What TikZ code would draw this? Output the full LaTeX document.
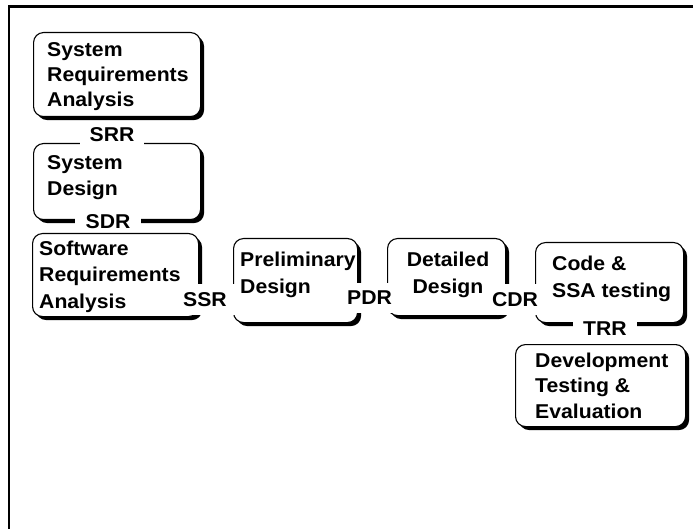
\documentclass[tikz,border=0pt]{standalone}
\usepackage{fontspec}
\setmainfont[FakeStretch=1.06]{Liberation Sans}
\usetikzlibrary{shadows}
\begin{document}
\begin{tikzpicture}[x=1pt,y=-1pt,
  stagebox/.style={draw=black, line width=1.1pt, rounded corners=10pt, fill=white,
    anchor=north west, inner sep=0pt,
    drop shadow={shadow xshift=3.5pt, shadow yshift=-3.5pt, fill=black, opacity=1}},
  boxtext/.style={anchor=base west, inner sep=0pt, font=\fontsize{20}{#1}\selectfont\bfseries},
  boxtextc/.style={anchor=base, inner sep=0pt, font=\fontsize{20}{#1}\selectfont\bfseries},
  milestone/.style={fill=white, inner xsep=10pt, inner ysep=#1, font=\fontsize{20}{24}\selectfont\bfseries},
  milestone/.default=8pt,
  frameline/.style={line width=2.5pt, line cap=rect},
]
\useasboundingbox (0,0) rectangle (693,529);

% outer frame (only top and left edges visible)
\coordinate (fbl) at (9,531);
\coordinate (ftl) at (9,6.5);
\coordinate (ftr) at (695,6.5);
\draw[frameline] (fbl) -- (ftl) -- (ftr);

% stage boxes
\node[stagebox, minimum width=167pt, minimum height=84pt] (sra) at (33,32) {};
\node[stagebox, minimum width=167pt, minimum height=76pt] (sd)  at (33,143) {};
\node[stagebox, minimum width=166pt, minimum height=83pt] (swra) at (32,233) {};
\node[stagebox, minimum width=124pt, minimum height=84pt] (pd)  at (233,238) {};
\node[stagebox, minimum width=118pt, minimum height=77pt] (dd)  at (387,238) {};
\node[stagebox, minimum width=148pt, minimum height=80pt] (cst) at (535,242) {};
\node[stagebox, minimum width=170pt, minimum height=82pt] (dte) at (515,344) {};

% box texts
\node[boxtext=25] (sratext) at (47,57) {\begin{tabular}[t]{@{}l@{}}System\\Requirements\\Analysis\end{tabular}};
\node[boxtext=26] (sdtext) at (47,170) {\begin{tabular}[t]{@{}l@{}}System\\Design\end{tabular}};
\node[boxtext=27] (swratext) at (39,255) {\begin{tabular}[t]{@{}l@{}}Software\\Requirements\\Analysis\end{tabular}};
\node[boxtext=26] (pdtext) at (240,267) {\begin{tabular}[t]{@{}l@{}}Preliminary\\Design\end{tabular}};
\node[boxtextc=26] (ddtext) at (448,267) {\begin{tabular}[t]{@{}c@{}}Detailed\\Design\end{tabular}};
\node[boxtext=27] (csttext) at (552,270) {\begin{tabular}[t]{@{}l@{}}Code \&\\SSA testing\end{tabular}};
\node[boxtext=25.5] (dtetext) at (535,367) {\begin{tabular}[t]{@{}l@{}}Development\\Testing \&\\Evaluation\end{tabular}};

% milestone labels
\node[milestone=4pt] (srr) at (112,135) {SRR};
\node[milestone=3pt, inner xsep=11pt] (sdr) at (108,221.5) {SDR};
\node[milestone] (ssr) at (205,299.5) {SSR};
\node[milestone] (pdr) at (369.5,298) {PDR};
\node[milestone] (cdr) at (515,299.5) {CDR};
\node[milestone=9pt] (trr) at (605,328.5) {TRR};
\end{tikzpicture}
\end{document}
